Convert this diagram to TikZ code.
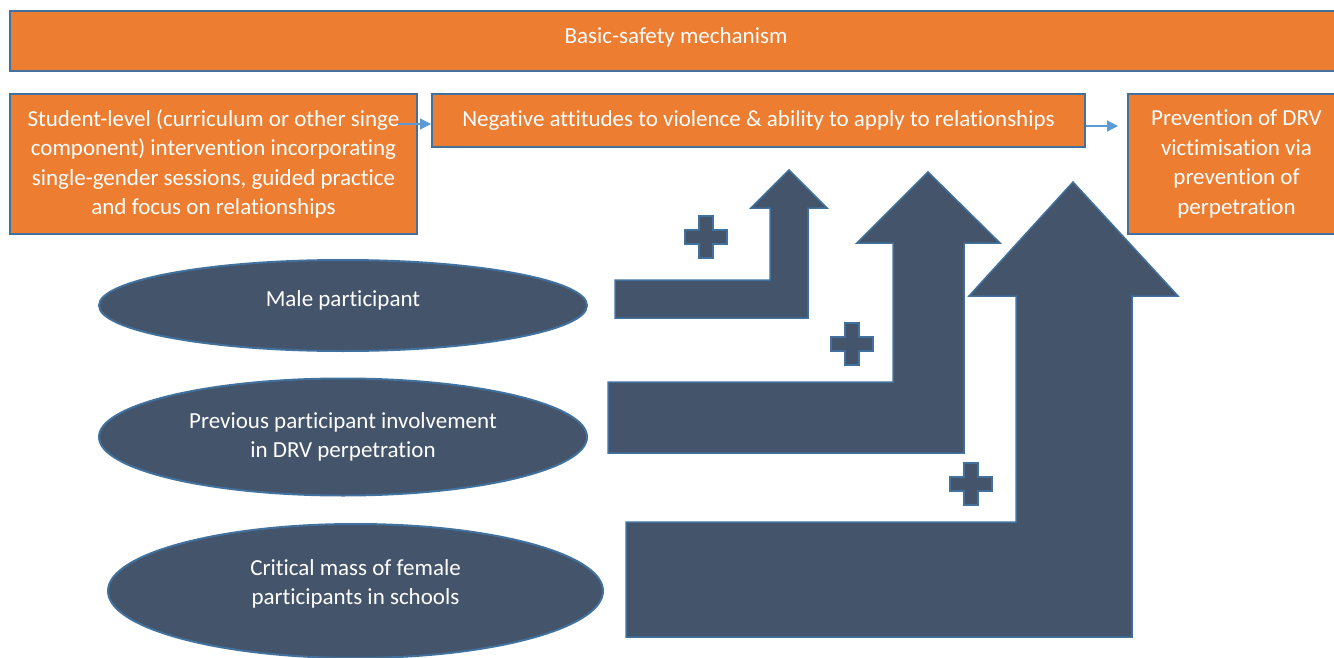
\documentclass[tikz,border=0pt]{standalone}
\usepackage{fontspec}
\setmainfont{Carlito}[Ligatures=NoCommon]
\usetikzlibrary{shapes.geometric, arrows.meta}

\definecolor{boxorange}{HTML}{ED7D31}
\definecolor{edgeblue}{HTML}{41719C}
\definecolor{slate}{HTML}{44546A}
\definecolor{linkblue}{HTML}{5B9BD5}

\begin{document}
\begin{tikzpicture}[x=1pt, y=-1pt,
		box/.style={draw=edgeblue, line width=2pt, fill=boxorange, text=white, align=center, inner sep=0pt, font=\fontsize{23}{29.5}\selectfont},
		oval/.style={ellipse, draw=edgeblue, line width=2pt, fill=slate, text=white, align=center, inner sep=0pt, font=\fontsize{23}{29.5}\selectfont},
		bigarrow/.style={draw=edgeblue, line width=1.5pt, fill=slate, line join=miter},
		link/.style={draw=linkblue, line width=1.2pt, -{Triangle[length=11pt, width=11pt]}}]
			\useasboundingbox (0,0) rectangle (1334,658);

			% boxes
			\node[box, minimum width=1332, minimum height=60, text depth=11pt] (safety) at (676,41) {Basic-safety mechanism};
			\node[box, minimum width=407, minimum height=140] (student) at (213.5,164) {Student-level (curriculum or other singe\\component) intervention incorporating\\single-gender sessions, guided practice\\and focus on relationships};
			\node[box, minimum width=653, minimum height=53] (attitudes) at (758.5,120.5) {Negative attitudes to violence \& ability to apply to relationships};
			\node[box, minimum width=217, minimum height=140] (prevention) at (1236.5,164) {Prevention of DRV\\victimisation via\\prevention of\\perpetration};

			\coordinate (s1) at (398,124);
			\coordinate (t2) at (1118,126);
			\draw[link] (s1) -- (s1 -| attitudes.west);
			\draw[link] (t2 -| attitudes.east) -- (t2);

			% ovals
			\node[oval, minimum width=488, minimum height=91, text depth=14pt] (male) at (343,305.5) {Male participant};
			\node[oval, minimum width=488, minimum height=117] (previous) at (343,437) {Previous participant involvement\\in DRV perpetration};
			\node[oval, minimum width=495, minimum height=134, text depth=18pt] (critical) at (355.5,591) {Critical mass of female\\participants in schools};

			% bent arrows
			\draw[bigarrow] (615,280) -- (770,280) -- (770,208) -- (751,208) -- (789,170) -- (827,208) -- (808,208) -- (808,318) -- (615,318) -- cycle;
			\draw[bigarrow] (608,382) -- (893,382) -- (893,243) -- (857,243) -- (928,172) -- (1000,243) -- (964,243) -- (964,453) -- (608,453) -- cycle;
			\draw[bigarrow] (626,522) -- (1016,522) -- (1016,296) -- (969,296) -- (1073,182) -- (1178,296) -- (1132,296) -- (1132,637) -- (626,637) -- cycle;

			% plus signs
			\foreach \px/\py in {706/237, 852/344, 971/484}
				\draw[bigarrow, shift={(\px,\py)}] (-21,-7) -- (-7,-7) -- (-7,-21) -- (7,-21) -- (7,-7) -- (21,-7) -- (21,7) -- (7,7) -- (7,21) -- (-7,21) -- (-7,7) -- (-21,7) -- cycle;
		\end{tikzpicture}
\end{document}
